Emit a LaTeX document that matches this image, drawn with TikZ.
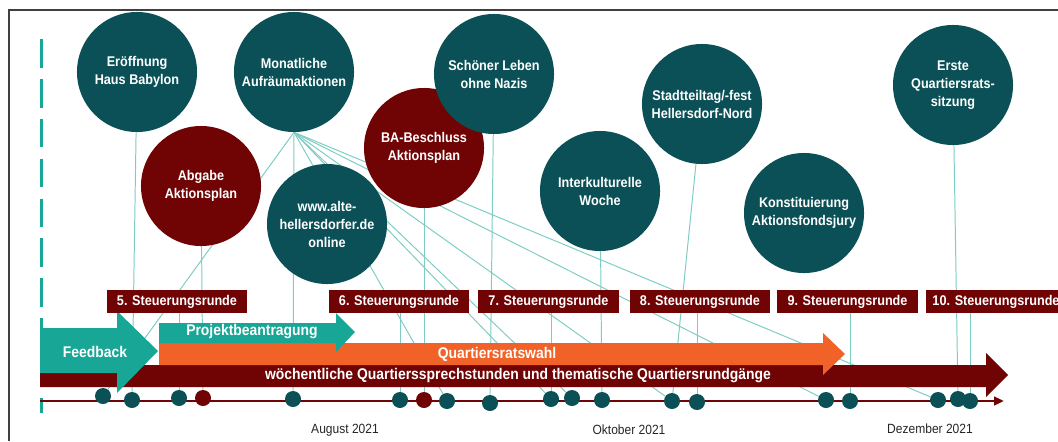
\documentclass[tikz,border=0pt]{standalone}
\usepackage{fontspec}
\setmainfont[FakeStretch=0.9]{Liberation Sans}
\usetikzlibrary{arrows.meta}

\definecolor{qmteal}{RGB}{10,80,86}
\definecolor{qmred}{RGB}{112,4,4}
\definecolor{qmgreen}{RGB}{24,166,150}
\definecolor{qmorange}{RGB}{240,98,40}
\definecolor{qmline}{RGB}{125,205,196}
\pgfdeclarelayer{lines}
\pgfsetlayers{lines,main}

\begin{document}
\begin{tikzpicture}[
    x=0.025cm, y=-0.025cm,
    event/.style={circle, fill=qmteal, minimum size=3cm, inner sep=0pt, align=center, text=white, font=\bfseries\fontsize{10}{12.8}\selectfont},
    decision/.style={event, fill=qmred},
    round/.style={rectangle, fill=qmred, minimum width=3.5cm, minimum height=0.575cm, inner sep=0pt, text=white, font=\bfseries\fontsize{10}{12}\selectfont},
    dot/.style={circle, fill=qmteal, minimum size=0.4cm, inner sep=0pt},
    reddot/.style={dot, fill=qmred},
    conn/.style={qmline, line width=0.7pt},
    bartext/.style={text=white, font=\bfseries\fontsize{11}{13}\selectfont},
    month/.style={text=black!85, font=\fontsize{9.5}{11}\selectfont}
]
\useasboundingbox (0,0) rectangle (1058,441);

% frame and start marker
\draw[black!75, line width=0.9pt] (9,441) -- (9,10) -- (1058,10);
\draw[qmgreen, line width=2.3pt, dash pattern=on 0.717cm off 0.28cm] (41.5,39) -- (41.5,413);

% time axis
\draw[qmred, line width=2.1pt, -{Triangle[length=7pt, width=6pt]}] (40,401) -- (1004,401);

% bars
\fill[qmred] (40,365) -- (986,365) -- (986,353) -- (1008,375) -- (986,397) -- (986,387) -- (40,387) -- cycle;
\fill[qmorange] (159,343) -- (823,343) -- (823,333) -- (845,354) -- (823,375) -- (823,365) -- (159,365) -- cycle;
\fill[qmgreen] (159,323) -- (336,323) -- (336,313) -- (355,332) -- (336,352) -- (336,343) -- (159,343) -- cycle;
\fill[qmgreen] (40,328) -- (117,328) -- (117,311) -- (158,351) -- (117,393) -- (117,373) -- (40,373) -- cycle;
\node[bartext] (rundgaenge) at (518,376) {wöchentliche Quartierssprechstunden und thematische Quartiersrundgänge};
\node[bartext] (wahl) at (497,354) {Quartiersratswahl};
\node[bartext] (antrag) at (252,332) {Projektbeantragung};
\node[bartext] (feedback) at (95,352) {Feedback};

% Steuerungsrunden
\node[round] (sr5) at (177,301.5) {5. Steuerungsrunde};
\node[round] (sr6) at (399,301.5) {6. Steuerungsrunde};
\node[round] (sr7) at (548.5,301.5) {7. Steuerungsrunde};
\node[round] (sr8) at (700,301.5) {8. Steuerungsrunde};
\node[round] (sr9) at (847.5,301.5) {9. Steuerungsrunde};
\node[round] (sr10) at (996,301.5) {10. Steuerungsrunde};

% events
\node[event] (eroeffnung) at (137,72) {Eröffnung\\Haus Babylon};
\node[event] (monatlich) at (294,72) {Monatliche\\Aufräumaktionen};
\node[decision] (abgabe) at (201,186) {Abgabe\\Aktionsplan};
\node[event] (website) at (327,224) {www.alte-\\hellersdorfer.de\\online};
\node[decision] (beschluss) at (424,148) {BA-Beschluss\\Aktionsplan};
\node[event] (nazis) at (494,74) {Schöner Leben\\ohne Nazis};
\node[event] (woche) at (600,191) {Interkulturelle\\Woche};
\node[event] (fest) at (702,104) {Stadtteiltag/-fest\\Hellersdorf-Nord};
\node[event] (jury) at (804,213) {Konstituierung\\Aktionsfondsjury};
\node[event] (sitzung) at (953,85) {Erste\\Quartiersrats-\\sitzung};

% dates
\foreach \x/\y in {103/396, 132/400, 179/398, 293/399, 400/400, 447/401, 490/403, 551/399, 572/398, 602/400, 672/401, 697/402, 826/400, 850/401, 938/400, 958/399, 970/401}
    \node[dot] (d\x) at (\x,\y) {};
\node[reddot] (d203) at (203,398) {};
\node[reddot] (d424) at (424,400) {};

% months
\node[month] (aug) at (345,430) {August 2021};
\node[month] (okt) at (629,430) {Oktober 2021};
\node[month] (dez) at (930,429) {Dezember 2021};

% connectors
\begin{pgfonlayer}{lines}
\draw[conn] (eroeffnung) -- (d132);
\draw[conn] (abgabe) -- (d203);
\draw[conn] (beschluss) -- (d424);
\draw[conn] (nazis) -- (d490);
\draw[conn] (woche) -- (d602);
\draw[conn] (fest) -- (d672);
\draw[conn] (sitzung) -- (d958);
\foreach \d in {103, 293, 447, 551, 572, 672, 826, 938}
    \draw[conn] (monatlich.south) -- (d\d);
\foreach \s/\d in {5/179, 6/400, 7/551, 8/697, 9/850, 10/970}
    \draw[conn] (sr\s.south -| d\d) -- (d\d);
\end{pgfonlayer}
\end{tikzpicture}
\end{document}
